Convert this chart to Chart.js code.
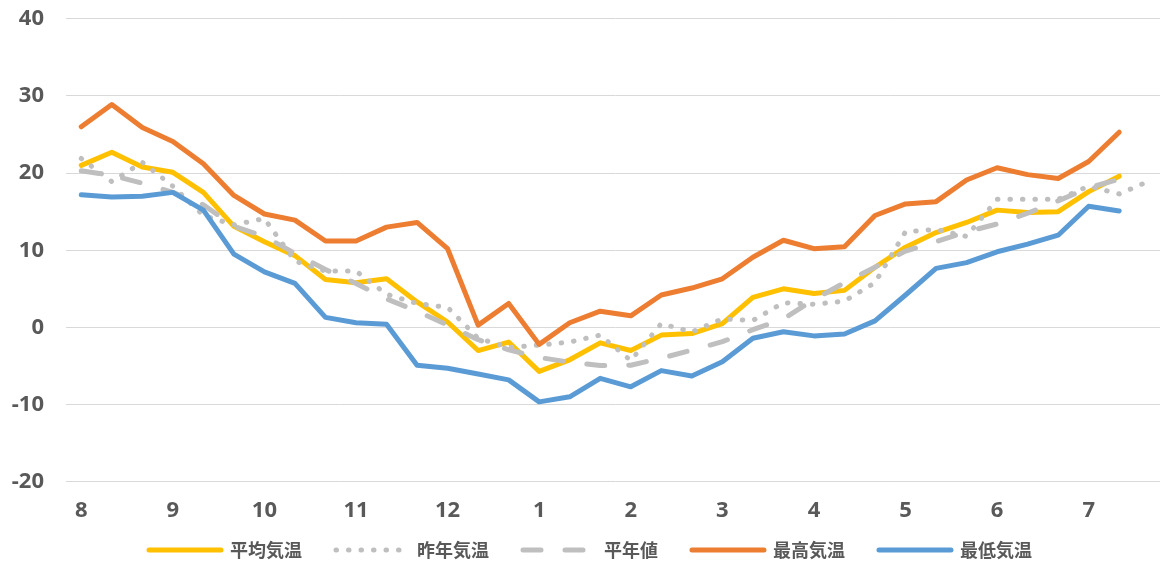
<!DOCTYPE html>
<html><head><meta charset="utf-8">
<script src="https://cdn.jsdelivr.net/npm/chart.js@4/dist/chart.umd.min.js"></script>
<style>
html,body{margin:0;padding:0;overflow:hidden;background:#fff;width:1160px;height:563px}
#wrap{position:absolute;left:0;top:0;width:1165px;height:563px}
</style>
</head><body><div id="wrap"><canvas id="c" width="1165" height="563"></canvas></div>
<script>
const months = ['8','9','10','11','12','1','2','3','4','5','6','7'];
const dekads = ['上旬','中旬','下旬'];
const categories = months.flatMap(m => dekads.map(d => m + '月' + d));
const yTicks = { min: -20, max: 40, step: 10 };

const avgTemp = [21.0, 22.7, 20.8, 20.1, 17.5, 13.1, 11.1, 9.3, 6.2, 5.8, 6.3, 3.3,
  0.7, -3.0, -1.9, -5.7, -4.2, -2.0, -3.0, -1.0, -0.8, 0.5, 3.9, 5.0,
  4.4, 4.8, 7.8, 10.4, 12.3, 13.6, 15.2, 14.9, 15.0, 17.6, 19.6, null];
const lastYearTemp = [21.9, 18.9, 21.4, 18.3, 14.5, 13.3, 14.1, 8.6, 7.3, 7.3, 4.3, 3.1,
  2.6, -1.4, -2.6, -2.3, -1.9, -1.0, -4.3, 0.5, -0.6, 1.1, 0.9, 3.2,
  3.0, 3.4, 5.8, 12.4, 12.7, 11.8, 16.6, 16.6, 16.6, 18.3, 17.3, 19.0];
const normalTemp = [20.3, 19.7, 18.7, 17.5, 15.9, 13.1, 11.8, 9.6, 7.5, 5.7, 3.7, 2.1,
  0.3, -1.6, -2.9, -3.9, -4.5, -4.95, -4.9, -4.0, -2.95, -1.85, -0.3, 1.1,
  3.6, 5.8, 7.8, 9.9, 11.1, 12.4, 13.4, 14.8, 16.4, 18.1, 19.2, null];
const maxTemp = [26.0, 28.9, 25.9, 24.1, 21.2, 17.1, 14.7, 13.9, 11.2, 11.2, 13.0, 13.6,
  10.2, 0.3, 3.1, -2.2, 0.6, 2.1, 1.5, 4.2, 5.1, 6.3, 9.1, 11.3,
  10.2, 10.45, 14.5, 16.0, 16.3, 19.1, 20.7, 19.8, 19.3, 21.5, 25.3, null];
const minTemp = [17.2, 16.9, 17.0, 17.5, 15.2, 9.5, 7.2, 5.7, 1.3, 0.6, 0.4, -4.9,
  -5.3, -6.05, -6.8, -9.65, -9.0, -6.6, -7.7, -5.6, -6.3, -4.45, -1.4, -0.57,
  -1.1, -0.85, 0.85, 4.2, 7.65, 8.4, 9.8, 10.8, 11.95, 15.7, 15.1, null];

const seriesNames = ['平均気温', '昨年気温', '平年値', '最高気温', '最低気温'];
const seriesData = [avgTemp, lastYearTemp, normalTemp, maxTemp, minTemp];
const seriesColors = ['#FFC000', '#BFBFBF', '#BFBFBF', '#ED7D31', '#5B9BD5'];
const seriesDash = [[], [0.5, 12], [18, 24], [], []];

const legendShift = {
  id: 'legendShift',
  afterLayout(chart) {
    const l = chart.legend;
    l.left += 8; l.right += 8; l.top -= 19.7; l.bottom -= 19.7;
  }
};

const datasets = seriesNames.map((name, i) => ({
  label: name,
  data: seriesData[i],
  borderColor: seriesColors[i],
  backgroundColor: seriesColors[i],
  borderWidth: 5,
  borderDash: seriesDash[i],
  borderCapStyle: 'round',
  borderJoinStyle: 'round',
  pointStyle: 'line',
  pointRadius: 0,
  pointHoverRadius: 0,
  tension: 0,
  fill: false,
  order: seriesNames.length - 1 - i
}));

new Chart(document.getElementById('c'), {
  type: 'line',
  data: { labels: categories, datasets },
  plugins: [legendShift],
  options: {
    responsive: false,
    animation: false,
    devicePixelRatio: 1,
    layout: { padding: { top: 18.8, left: 0, right: 0, bottom: -25.7 } },
    plugins: {
      tooltip: { enabled: false },
      legend: {
        position: 'bottom',
        labels: {
          usePointStyle: true,
          pointStyleWidth: 72,
          padding: 34,
          color: '#595959',
          font: { family: "'Noto Sans CJK JP', sans-serif", size: 18, weight: 'bold' },
          sort: (a, b) => a.datasetIndex - b.datasetIndex,
          generateLabels(chart) {
            return chart.data.datasets.map((ds, i) => ({
              text: ds.label,
              fillStyle: ds.borderColor,
              strokeStyle: ds.borderColor,
              fontColor: '#595959',
              lineWidth: ds.borderWidth,
              lineDash: ds.borderDash,
              lineDashOffset: 0,
              lineCap: 'round',
              lineJoin: 'round',
              pointStyle: 'line',
              rotation: 0,
              hidden: false,
              datasetIndex: i
            }));
          }
        }
      }
    },
    scales: {
      x: {
        type: 'category',
        offset: true,
        grid: { display: false, drawTicks: false },
        border: { display: false },
        afterFit(scale) { scale.height = 45; },
        ticks: {
          autoSkip: false,
          maxRotation: 0,
          padding: 16,
          color: '#595959',
          font: { family: "'Noto Sans', sans-serif", size: 22, weight: 'bold' },
          callback: (v, i) => (i % 3 === 0 ? months[i / 3] : null)
        }
      },
      y: {
        min: yTicks.min,
        max: yTicks.max,
        afterFit(scale) { scale.width = 66; },
        grid: { color: '#D9D9D9', lineWidth: 1, drawTicks: true, tickLength: 20, tickColor: 'rgba(0,0,0,0)' },
        border: { display: false },
        ticks: {
          stepSize: yTicks.step,
          padding: 2,
          color: '#595959',
          font: { family: "'Noto Sans', sans-serif", size: 22, weight: 'bold' }
        }
      }
    }
  }
});
</script>
</body></html>
